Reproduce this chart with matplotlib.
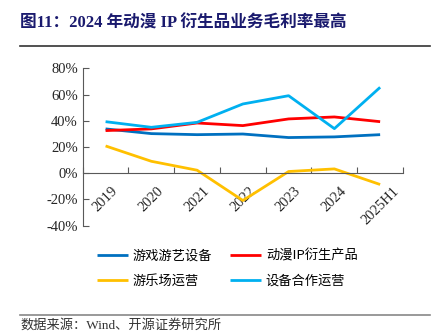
import matplotlib.pyplot as plt
import numpy as np
from matplotlib.lines import Line2D

plt.rcParams['font.family'] = ['Liberation Serif', 'Noto Sans CJK SC']

# Gross margin by business line (%)
years = ['2019', '2020', '2021', '2022', '2023', '2024', '2025H1']
game_equipment = [33.8, 30.2, 29.4, 29.9, 27.2, 27.7, 29.4]
anime_ip = [32.5, 33.8, 38.3, 36.3, 41.4, 42.9, 39.3]
park_operation = [20.8, 9.1, 2.3, -20.8, 1.3, 3.3, -8.6]
equipment_coop = [39.3, 35.0, 38.8, 52.8, 59.1, 34.0, 65.5]

series = [
    ('游戏游艺设备', game_equipment, '#0070C0'),
    ('动漫IP衍生产品', anime_ip, '#FF0000'),
    ('游乐场运营', park_operation, '#FFC000'),
    ('设备合作运营', equipment_coop, '#00B0F0'),
]

fig = plt.figure(figsize=(4.47, 3.32), dpi=100)
ax = fig.add_axes([0.185, 0.3202, 0.9016 - 0.185, 0.7943 - 0.3202])

x = np.arange(len(years))
lines = {}
for name, vals, color in series:
    lines[name], = ax.plot(x, vals, color=color, lw=2, solid_capstyle='butt')

ax.set_xlim(-0.5, len(years) - 0.5)
ax.set_ylim(-40, 80)
ax.set_yticks(np.arange(-40, 81, 20))
ax.set_yticklabels([f'{v}%' for v in range(-40, 81, 20)])

# boundaries get the tick marks, centres get the labels
ax.set_xticks(np.arange(-0.5, len(years) + 0.5, 1))
ax.set_xticklabels([])
ax.set_xticks(x, minor=True)
ax.set_xticklabels(years, minor=True)
ax.tick_params(axis='x', which='minor', length=0, pad=8, labelsize=10.5,
               colors='#262626', labelrotation=45)
for lbl in ax.get_xticklabels(minor=True):
    lbl.set_ha('right')
    lbl.set_va('top')
ax.tick_params(axis='x', which='major', direction='in', length=4, color='#595959')
ax.tick_params(axis='y', direction='in', length=4, color='#595959', labelsize=10.5,
               labelcolor='#262626')

for s in ['top', 'right']:
    ax.spines[s].set_visible(False)
ax.spines['bottom'].set_position(('data', 0))
ax.spines['bottom'].set_color('#595959')
ax.spines['left'].set_color('#595959')

order = ['游戏游艺设备', '游乐场运营', '动漫IP衍生产品', '设备合作运营']
fig.legend([lines[n] for n in order], order, loc='center',
           bbox_to_anchor=(0.508, 0.191), ncol=2, frameon=False,
           prop={'family': ['Noto Sans CJK SC'], 'size': 9.5},
           handlelength=2.35, handletextpad=0.4, columnspacing=1.3,
           labelspacing=0.9, borderpad=0)

fig.text(0.045, 1 - 23 / 332, '图11：2024 年动漫 IP 衍生品业务毛利率最高',
         family=['Liberation Serif', 'Noto Sans CJK SC'], weight='bold',
         size=12, color='#1A1A6E', va='center', ha='left')
fig.add_artist(Line2D([0.045, 0.962], [1 - 46 / 332] * 2, color='#333333', lw=1.2))
fig.add_artist(Line2D([0.045, 0.962], [1 - 315 / 332] * 2, color='#888888', lw=1.2))
fig.text(0.045, 1 - 325 / 332, '数据来源：Wind、开源证券研究所',
         family=['Liberation Serif', 'Noto Sans CJK SC'], size=9.5,
         color='#333333', va='center', ha='left')

fig.savefig('out.png', dpi=100)
